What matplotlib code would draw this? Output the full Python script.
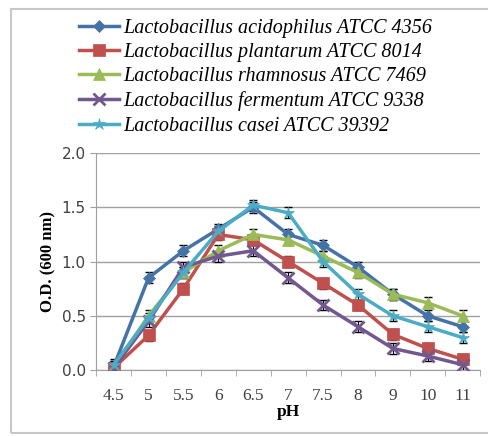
import numpy as np
import matplotlib
matplotlib.use('Agg')
import matplotlib.pyplot as plt
from matplotlib.patches import Rectangle

ph = ['4.5', '5', '5.5', '6', '6.5', '7', '7.5', '8', '9', '10', '11']
names = ['Lactobacillus acidophilus ATCC 4356',
         'Lactobacillus plantarum ATCC 8014',
         'Lactobacillus rhamnosus ATCC 7469',
         'Lactobacillus fermentum ATCC 9338',
         'Lactobacillus casei ATCC 39392']
acidophilus = [0.03, 0.85, 1.10, 1.30, 1.50, 1.25, 1.15, 0.95, 0.70, 0.50, 0.40]
plantarum = [0.02, 0.32, 0.75, 1.25, 1.20, 1.00, 0.80, 0.60, 0.33, 0.20, 0.10]
rhamnosus = [0.03, 0.50, 0.90, 1.10, 1.25, 1.20, 1.05, 0.90, 0.70, 0.62, 0.50]
fermentum = [0.02, 0.45, 0.95, 1.05, 1.10, 0.85, 0.60, 0.40, 0.20, 0.13, 0.05]
casei = [0.05, 0.48, 0.90, 1.28, 1.52, 1.45, 1.00, 0.70, 0.50, 0.40, 0.30]
err = 0.05

series = [acidophilus, plantarum, rhamnosus, fermentum, casei]
colors = ['#4572A7', '#C0504D', '#9BBB59', '#71588F', '#4BACC6']
markers = ['D', 's', '^', 'x', '*']
msizes = [6, 9, 8, 9, 9]

fig = plt.figure(figsize=(4.88, 4.36), dpi=100)
ax = fig.add_axes([0.197, 0.151, 0.787, 0.498])
fig.patches.append(Rectangle((11/488, 3/436), 1.2, 424/436, transform=fig.transFigure,
                             fill=False, edgecolor='#c8c8c8', lw=1.5))

x = np.arange(len(ph))
handles = []
for s, c, m, ms, n in zip(series, colors, markers, msizes, names):
    ax.errorbar(x, s, yerr=err, fmt='none', ecolor='black', elinewidth=0.8, capsize=3, zorder=2)
    h, = ax.plot(x, s, color=c, lw=2.5, marker=m, markersize=ms, markeredgewidth=2 if m == 'x' else 0.5,
                 markeredgecolor=c, label=n, zorder=3)
    handles.append(h)

ax.set_xlim(-0.5, len(ph) - 0.5)
ax.set_ylim(0, 2.0)
ax.set_yticks([0, 0.5, 1.0, 1.5, 2.0])
ax.set_yticklabels(['0.0', '0.5', '1.0', '1.5', '2.0'], family='DejaVu Sans', fontsize=11, color='#404040')
ax.yaxis.grid(True, color='#a0a0a0', lw=1)
ax.set_axisbelow(True)
ax.set_xticks(x)
ax.set_xticklabels(ph, family='Liberation Serif', fontsize=12.5, color='#404040')
ax.set_xticks(np.arange(-0.5, len(ph), 1), minor=True)
ax.tick_params(axis='x', which='major', length=0, pad=13)
ax.tick_params(axis='x', which='minor', length=4, color='#a0a0a0')
ax.tick_params(axis='y', length=4, color='#a0a0a0')
for sp in ['top', 'right']:
    ax.spines[sp].set_visible(False)
for sp in ['left', 'bottom']:
    ax.spines[sp].set_color('#a0a0a0')
ax.set_xlabel('pH', family='Liberation Serif', fontweight='bold', fontsize=12.5, labelpad=0)
ax.set_ylabel('O.D. (600 nm)', family='Liberation Serif', fontweight='bold', fontsize=12, labelpad=4)

fig.legend(handles=handles, loc='upper left', bbox_to_anchor=(0.145, 0.976), frameon=False,
           prop={'family': 'Liberation Serif', 'style': 'italic', 'size': 14.5},
           handlelength=2.0, handletextpad=0.2, labelspacing=0.26, borderaxespad=0)

fig.savefig('out.png', dpi=100)
